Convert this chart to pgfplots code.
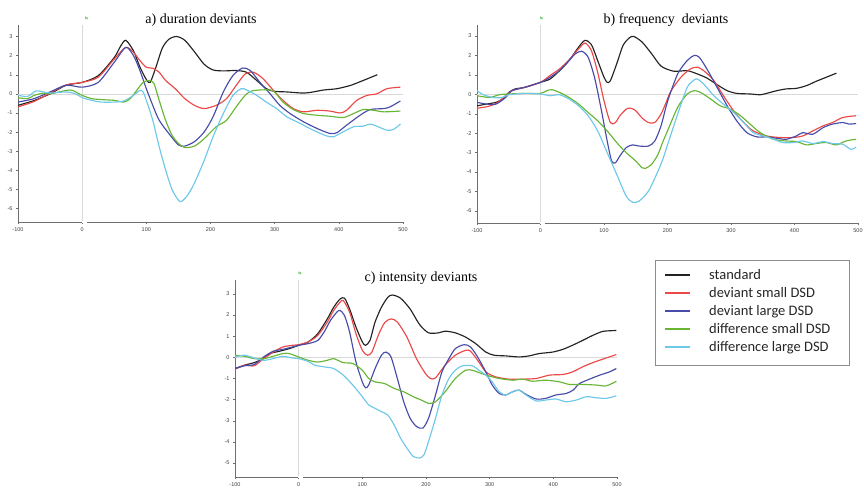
\documentclass[border=0pt]{standalone}
\usepackage{fontspec}
\setmainfont{Liberation Serif}
\newfontfamily\legfont{Carlito}
\newfontfamily\tickfont{Liberation Sans}
\usepackage{pgfplots}
\pgfplotsset{compat=1.18}
\definecolor{stdc}{RGB}{35,35,35}
\definecolor{redc}{RGB}{236,72,72}
\definecolor{bluec}{RGB}{72,76,168}
\definecolor{greenc}{RGB}{104,182,52}
\definecolor{cyanc}{RGB}{110,200,232}
\definecolor{axc}{RGB}{110,110,110}
\pgfplotsset{
  erp/.style={
    scale only axis, xmin=-100, xmax=500,
    axis x line=bottom, axis y line=left,
    axis line style={-, draw=axc, line width=0.5pt},
    xtick={-100,0,100,200,300,400,500},
    tick style={draw=axc, line width=0.4pt},
    tick align=outside, major tick length=2pt,
    ticklabel style={font=\tickfont\fontsize{5.5}{6.5}\selectfont, text=black!75},
    /pgf/number format/assume math mode=true,
    every axis plot/.append style={line width=1.15pt, smooth, tension=0.45, no marks},
  },
}
\tikzset{mk/.style={font=\tickfont\fontsize{3.5}{4}\selectfont, text=green!45!black, fill=green!12, inner sep=0.6pt}}
\begin{document}
\begin{tikzpicture}
\path[use as bounding box] (0,0) rectangle (864pt,489pt);
% ---------------- panel a
\begin{axis}[erp, at={(18pt,267pt)}, anchor=south west, width=385pt, height=197pt,
  ymin=-6.7, ymax=3.6, ytick={-6,-5,...,3}]
\draw[black!15, line width=0.5pt] (axis cs:-100,0) -- (axis cs:500,0);
\draw[black!15, line width=0.5pt] (axis cs:0,-6.7) -- (axis cs:0,3.6);
\coordinate (ga) at (axis cs:3,-6.7);
\addplot[stdc] coordinates {(-100,-0.6) (-75,-0.35) (-50,0.0) (-25,0.45) (0,0.6) (25,0.95) (50,1.9) (60,2.5) (68,2.8) (80,2.25) (90,1.4) (100,0.75) (106,0.6) (115,1.4) (125,2.4) (135,2.85) (147,3.0) (160,2.8) (175,2.2) (190,1.55) (204,1.25) (220,1.2) (240,1.22) (256,1.13) (272,0.7) (287,0.27) (300,0.13) (319,0.1) (345,0.04) (360,0.1) (376,0.2) (397,0.27) (418,0.44) (438,0.7) (460,1.0)};
\addplot[redc] coordinates {(-100,-0.68) (-75,-0.4) (-50,0.04) (-25,0.47) (0,0.6) (25,0.87) (50,1.82) (68,2.43) (80,2.17) (90,1.74) (100,1.39) (110,1.34) (120,1.13) (130,0.7) (145,0.27) (160,-0.25) (175,-0.6) (190,-0.77) (209,-0.6) (225,-0.25) (240,0.44) (254,1.04) (267,1.13) (282,0.79) (298,0.18) (313,-0.34) (329,-0.77) (345,-0.94) (366,-0.86) (386,-0.9) (402,-1.0) (412,-0.86) (428,-0.34) (444,-0.08) (459,0.0) (475,0.27) (496,0.35)};
\addplot[bluec] coordinates {(-100,-0.43) (-75,-0.25) (-50,0.1) (-25,0.45) (0,0.35) (25,0.6) (50,1.65) (68,2.43) (80,2.0) (90,1.22) (100,0.27) (110,-0.6) (120,-1.38) (135,-2.07) (150,-2.67) (160,-2.73) (175,-2.5) (190,-2.0) (204,-1.2) (220,0.1) (235,0.96) (250,1.35) (262,1.22) (277,0.6) (293,0.0) (308,-0.6) (324,-1.03) (345,-1.46) (366,-1.81) (386,-2.07) (397,-2.03) (412,-1.64) (433,-1.12) (449,-0.82) (470,-0.77) (480,-0.68) (496,-0.37)};
\addplot[greenc] coordinates {(-100,-0.2) (-85,-0.25) (-75,-0.08) (-60,0.04) (-50,0.0) (-25,0.18) (-15,0.18) (0,-0.08) (15,-0.25) (30,-0.3) (50,-0.34) (65,-0.43) (75,-0.25) (85,0.18) (95,0.6) (105,0.7) (112,0.53) (120,-0.34) (130,-1.38) (140,-2.16) (150,-2.59) (160,-2.81) (175,-2.73) (190,-2.35) (209,-1.72) (225,-1.38) (240,-0.68) (254,-0.08) (264,0.15) (282,0.21) (298,0.15) (313,-0.43) (329,-0.82) (345,-1.03) (366,-1.12) (386,-1.17) (407,-1.24) (423,-1.03) (438,-0.82) (454,-0.86) (470,-0.94) (496,-0.9)};
\addplot[cyanc] coordinates {(-100,-0.08) (-85,-0.13) (-72,0.15) (-60,0.1) (-50,0.04) (-25,0.1) (-10,0.0) (0,-0.2) (15,-0.34) (30,-0.43) (50,-0.43) (65,-0.37) (80,-0.08) (90,0.18) (95,0.1) (100,-0.34) (110,-1.38) (120,-2.76) (130,-3.97) (140,-5.0) (150,-5.56) (155,-5.62) (165,-5.27) (175,-4.66) (190,-3.5) (204,-2.24) (220,-1.03) (235,-0.08) (248,0.27) (256,0.21) (272,-0.08) (287,-0.43) (303,-0.77) (319,-1.2) (340,-1.55) (360,-1.9) (381,-2.2) (392,-2.24) (407,-1.98) (423,-1.72) (438,-1.69) (449,-1.58) (459,-1.69) (475,-1.9) (485,-1.86) (496,-1.58)};
\end{axis}
% ---------------- panel b
\begin{axis}[erp, at={(477pt,266pt)}, anchor=south west, width=381pt, height=198pt,
  ymin=-6.62, ymax=3.57, ytick={-6,-5,...,3}]
\draw[black!15, line width=0.5pt] (axis cs:-100,0) -- (axis cs:500,0);
\draw[black!15, line width=0.5pt] (axis cs:0,-6.62) -- (axis cs:0,3.57);
\coordinate (gb) at (axis cs:3,-6.62);
\addplot[stdc] coordinates {(-100,-0.59) (-85,-0.5) (-70,-0.41) (-60,-0.24) (-50,0.1) (-40,0.28) (-25,0.36) (0,0.62) (15,0.79) (30,1.22) (45,1.74) (60,2.43) (70,2.78) (80,2.57) (90,1.74) (100,0.88) (105,0.62) (110,0.7) (120,1.57) (130,2.52) (140,2.91) (147,2.98) (160,2.69) (175,2.09) (190,1.45) (210,1.19) (231,1.22) (247,1.05) (262,0.84) (278,0.5) (294,0.19) (309,0.05) (330,0.02) (346,-0.02) (356,0.05) (372,0.19) (387,0.28) (403,0.31) (419,0.45) (434,0.67) (450,0.88) (466,1.09)};
\addplot[redc] coordinates {(-100,-0.71) (-85,-0.64) (-70,-0.47) (-55,-0.07) (-45,0.19) (-25,0.36) (0,0.62) (15,0.97) (30,1.31) (45,1.78) (60,2.34) (70,2.64) (80,2.26) (90,1.14) (100,-0.33) (110,-1.45) (118,-1.45) (125,-1.1) (135,-0.76) (142,-0.71) (150,-0.84) (160,-1.22) (170,-1.45) (180,-1.45) (190,-1.0) (198,-0.4) (205,0.15) (221,0.88) (236,1.31) (247,1.4) (257,1.22) (273,0.71) (288,-0.07) (304,-0.84) (320,-1.45) (335,-1.88) (356,-2.14) (377,-2.22) (398,-2.22) (413,-2.14) (429,-1.88) (445,-1.62) (460,-1.45) (476,-1.19) (497,-1.1)};
\addplot[bluec] coordinates {(-100,-0.41) (-85,-0.5) (-70,-0.5) (-55,-0.16) (-45,0.19) (-25,0.36) (0,0.62) (15,0.88) (30,1.22) (45,1.74) (55,2.09) (65,2.22) (75,1.91) (85,0.88) (95,-0.67) (105,-2.4) (112,-3.43) (118,-3.52) (125,-3.17) (135,-2.74) (145,-2.6) (155,-2.66) (170,-2.66) (180,-2.4) (190,-1.6) (200,-0.37) (216,1.05) (231,1.74) (242,2.0) (250,1.91) (262,1.31) (278,0.36) (294,-0.59) (309,-1.36) (325,-1.97) (341,-2.19) (356,-2.19) (372,-2.26) (387,-2.31) (403,-2.14) (413,-1.97) (429,-2.05) (445,-1.71) (460,-1.53) (476,-1.45) (486,-1.53) (497,-1.5)};
\addplot[greenc] coordinates {(-100,-0.07) (-80,-0.16) (-65,-0.02) (-50,0.02) (-25,0.05) (0,0.05) (10,0.19) (18,0.24) (30,0.1) (45,-0.16) (60,-0.5) (75,-0.93) (90,-1.36) (105,-1.88) (120,-2.48) (135,-3.0) (150,-3.43) (160,-3.78) (165,-3.81) (175,-3.6) (185,-3.09) (192,-2.5) (200,-1.88) (216,-0.67) (231,0.02) (242,0.19) (252,0.1) (268,-0.24) (283,-0.59) (299,-0.76) (315,-1.1) (330,-1.53) (346,-1.97) (367,-2.31) (387,-2.4) (403,-2.43) (419,-2.6) (434,-2.53) (450,-2.48) (466,-2.6) (481,-2.4) (497,-2.31)};
\addplot[cyanc] coordinates {(-100,0.19) (-90,-0.02) (-75,-0.16) (-60,-0.16) (-50,-0.02) (-25,0.05) (0,0.02) (15,-0.07) (30,-0.02) (45,-0.24) (60,-0.59) (75,-1.1) (90,-1.88) (105,-3.0) (120,-4.12) (135,-5.24) (145,-5.55) (155,-5.5) (170,-4.98) (185,-3.95) (193,-3.3) (200,-2.6) (216,-1.02) (231,0.36) (242,0.74) (247,0.79) (257,0.53) (273,-0.07) (288,-0.5) (304,-0.93) (320,-1.45) (335,-1.97) (351,-2.14) (367,-2.31) (382,-2.48) (398,-2.48) (413,-2.4) (429,-2.53) (445,-2.43) (460,-2.53) (476,-2.57) (489,-2.83) (497,-2.71)};
\end{axis}
% ---------------- panel c
\begin{axis}[erp, at={(235pt,12pt)}, anchor=south west, width=382pt, height=197pt,
  ymin=-5.66, ymax=3.66, ytick={-5,-4,...,3}]
\draw[black!15, line width=0.5pt] (axis cs:-100,0) -- (axis cs:500,0);
\draw[black!15, line width=0.5pt] (axis cs:0,-5.66) -- (axis cs:0,3.66);
\coordinate (gc) at (axis cs:3,-5.66);
\addplot[stdc] coordinates {(-100,-0.53) (-85,-0.37) (-70,-0.25) (-55,-0.06) (-45,0.18) (-30,0.29) (-15,0.41) (0,0.57) (15,0.73) (30,1.12) (45,1.82) (55,2.37) (65,2.76) (72,2.8) (80,2.29) (90,1.43) (100,0.73) (105,0.57) (112,0.8) (120,1.67) (130,2.37) (140,2.84) (147,2.95) (160,2.8) (175,2.29) (190,1.55) (204,1.16) (220,1.16) (230,1.24) (246,1.16) (262,0.96) (278,0.65) (294,0.25) (307,0.1) (325,0.07) (346,0.02) (362,0.07) (378,0.18) (399,0.25) (415,0.38) (430,0.57) (446,0.8) (462,1.04) (478,1.23) (499,1.27)};
\addplot[redc] coordinates {(-100,-0.56) (-85,-0.37) (-70,-0.4) (-55,-0.06) (-40,0.25) (-25,0.49) (-10,0.57) (0,0.6) (15,0.73) (30,1.04) (45,1.67) (55,2.22) (65,2.61) (70,2.69) (80,2.14) (90,1.12) (100,0.33) (108,0.1) (115,0.25) (125,1.04) (135,1.64) (145,1.82) (155,1.67) (170,0.96) (185,-0.06) (199,-0.76) (207,-1.0) (215,-0.97) (230,-0.37) (246,0.1) (262,0.33) (270,0.29) (283,-0.22) (294,-0.69) (309,-0.92) (330,-1.03) (352,-1.03) (373,-1.0) (394,-0.84) (415,-0.81) (430,-0.69) (446,-0.45) (462,-0.25) (483,-0.03) (499,0.13)};
\addplot[bluec] coordinates {(-100,-0.53) (-85,-0.4) (-70,-0.34) (-55,0.02) (-40,0.29) (-25,0.38) (-10,0.49) (0,0.57) (15,0.65) (30,0.8) (40,1.2) (50,1.75) (60,2.14) (65,2.22) (72,1.98) (80,1.2) (90,-0.22) (100,-1.16) (105,-1.44) (110,-1.31) (120,-0.53) (130,0.1) (137,0.25) (145,0.02) (155,-1.0) (165,-2.1) (175,-2.88) (185,-3.27) (195,-3.35) (204,-2.88) (215,-1.78) (225,-0.69) (236,-0.06) (246,0.41) (260,0.6) (270,0.49) (281,0.02) (294,-0.69) (304,-1.31) (315,-1.71) (325,-1.78) (336,-1.63) (346,-1.55) (357,-1.75) (373,-1.97) (388,-1.94) (404,-1.78) (420,-1.71) (431,-1.55) (441,-1.24) (457,-1.03) (473,-0.84) (488,-0.69) (499,-0.53)};
\addplot[greenc] coordinates {(-100,0.1) (-85,0.05) (-70,-0.06) (-55,-0.06) (-40,0.05) (-25,0.18) (-15,0.18) (0,0.02) (15,-0.14) (30,-0.22) (45,-0.14) (55,-0.06) (70,-0.25) (85,-0.29) (100,-0.61) (110,-1.0) (120,-1.16) (135,-1.24) (150,-1.47) (165,-1.63) (180,-1.86) (195,-2.05) (204,-2.18) (215,-2.1) (230,-1.63) (246,-1.0) (262,-0.61) (273,-0.61) (283,-0.72) (299,-0.88) (315,-1.0) (336,-1.08) (352,-1.03) (367,-1.13) (388,-1.08) (410,-1.16) (425,-1.28) (446,-1.28) (467,-1.31) (483,-1.35) (499,-1.13)};
\addplot[cyanc] coordinates {(-100,0.02) (-85,0.1) (-70,-0.03) (-55,-0.14) (-40,-0.06) (-25,0.05) (-10,-0.03) (0,-0.06) (15,-0.19) (25,-0.37) (40,-0.45) (55,-0.53) (70,-0.84) (85,-1.31) (100,-1.86) (110,-2.25) (120,-2.41) (130,-2.57) (140,-2.73) (150,-3.2) (160,-3.82) (170,-4.29) (180,-4.69) (190,-4.76) (197,-4.6) (204,-3.98) (215,-2.88) (225,-1.78) (236,-1.0) (246,-0.61) (257,-0.4) (273,-0.4) (283,-0.61) (294,-0.84) (304,-1.16) (315,-1.63) (325,-1.78) (336,-1.63) (346,-1.55) (357,-1.78) (373,-2.06) (388,-2.02) (404,-1.97) (420,-2.1) (436,-2.02) (452,-1.86) (467,-1.91) (483,-1.94) (499,-1.82)};
\end{axis}
% gaps in x axis near 0
\foreach \g in {ga,gb,gc} {\fill[white] ([xshift=-2.5pt,yshift=-0.6pt]\g) rectangle ([xshift=2.5pt,yshift=0.6pt]\g);}
% titles
\node[font=\fontsize{14}{16}\selectfont] at (201pt,469pt) {a) duration deviants};
\node[font=\fontsize{14}{16}\selectfont] at (666pt,469pt) {b) frequency\ \ deviants};
\node[font=\fontsize{14}{16}\selectfont] at (421pt,211pt) {c) intensity deviants};
% markers
\node[mk] at (86.5pt,470.5pt) {fs};
\node[mk] at (541.5pt,470.5pt) {fs};
\node[mk] at (300pt,215.5pt) {fs};
% legend
\draw[black!45, line width=0.6pt] (655pt,124pt) rectangle (849pt,229pt);
\foreach \yy/\cc/\lab in {214/stdc/standard, 196/redc/deviant small DSD, 178/bluec/deviant large DSD, 160/greenc/difference small DSD, 142/cyanc/difference large DSD} {
  \draw[\cc, line width=1.2pt] (665pt,\yy pt) -- (690pt,\yy pt);
  \node[anchor=base west, inner sep=0pt, yshift=-4.5pt, font=\legfont\fontsize{14.5}{16}\selectfont, text=black!85] at (709pt,\yy pt) {\lab};
}
\end{tikzpicture}
\end{document}
